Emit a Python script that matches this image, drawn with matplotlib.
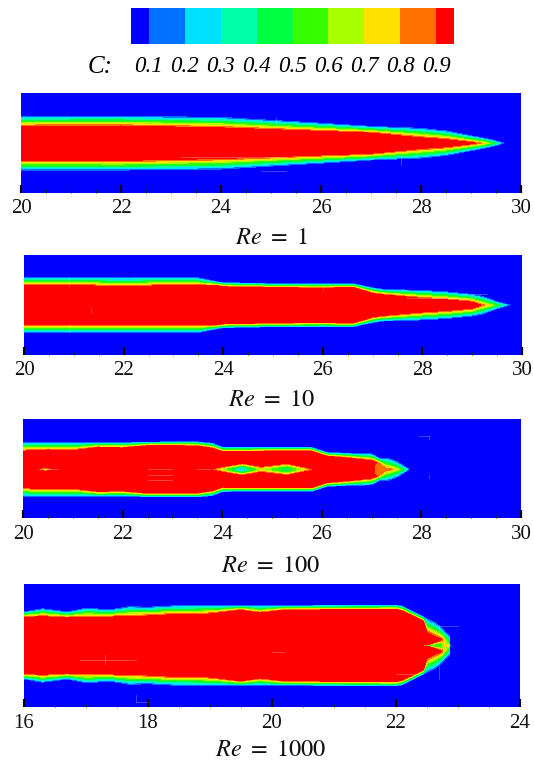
import numpy as np
import matplotlib
matplotlib.use("Agg")
import matplotlib.pyplot as plt
from matplotlib.colors import ListedColormap, BoundaryNorm

W, H = 534, 760
plt.rcParams['font.family'] = ['Liberation Serif', 'DejaVu Serif']
plt.rcParams['mathtext.fontset'] = 'stix'

levels = [0.05, 0.1, 0.2, 0.3, 0.4, 0.5, 0.6, 0.7, 0.8, 0.9, 0.95]
colors = ['#0000ff', '#0070ff', '#00e0ff', '#00ffa8', '#00ff40',
          '#38ff00', '#a8ff00', '#ffe000', '#ff7000', '#ff0000']
level_labels = ['0.1', '0.2', '0.3', '0.4', '0.5', '0.6', '0.7', '0.8', '0.9']

# Panel 1: Re = 1
x1 = [20, 22, 24, 25, 26, 27, 28, 28.5, 29, 29.2, 29.4, 29.65, 29.66, 30]
out1 = [27, 27, 26, 23, 20, 16.7, 15, 12.3, 7.3, 5.5, 3.5, 0, 0, 0]
in1 = [17.3, 17.6, 15.7, 14, 12.3, 10.7, 5.7, 4, 1.3, 0, -2, -5, -5, -5]

# Panel 2: Re = 10
x2 = [20, 21, 22, 23, 23.5, 23.9, 24, 25, 26, 26.6, 27, 27.2, 28, 28.5, 29, 29.2, 29.5, 29.75, 29.76, 30]
out2 = [27.3, 27.3, 27.3, 27.3, 27.3, 23, 22.3, 21.3, 21.3, 21.3, 17.3, 15.7, 14.7, 13.3, 10.7, 9, 3.3, 0, 0, 0]
in2 = [20, 20, 19.3, 20, 20, 20, 19, 18.3, 17.6, 18.5, 12.3, 11, 7.3, 5.7, 3.5, 0, -3, -5, -5, -5]

# Panel 3: Re = 100
x3 = [20, 20.5, 21, 21.5, 22, 22.5, 23, 23.5, 23.8, 24, 25, 25.8, 26.1, 26.5, 27, 27.15, 27.35, 27.5, 27.6, 27.75, 27.76, 30]
out3 = [26.7, 26.7, 26.7, 26.7, 26.7, 27, 27.3, 27.3, 26, 22, 21.7, 21.7, 16.7, 16, 15.3, 11, 11, 8, 5, 0, 0, 0]
in3 = [18.7, 20, 19.3, 22.5, 22, 24.3, 24.3, 24, 21.7, 18.3, 18.7, 18.7, 13.7, 12, 9.3, 6.7, 0, -2, -4, -5, -5, -5]
dip_x3 = [20, 20.3, 20.45, 20.6, 23.75, 24.4, 24.78, 25.3, 25.87, 27.03, 27.1, 27.3, 27.36, 30]
dip3 = [0, 0, 0.22, 0, 0, 0.72, 0.25, 0.55, 0, 0, 0.14, 0.14, 0, 0]
dip_h3 = [2, 2, 2, 2, 1, 6.5, 3.5, 6.5, 1, 9, 9, 9, 9, 9]

# Panel 4: Re = 1000
x4 = [16, 16.3, 16.7, 17, 17.4, 17.7, 18, 18.4, 19, 19.5, 19.8, 20.2, 21, 22, 22.1, 22.44, 22.5, 22.63, 22.73, 22.8, 22.86, 22.87, 24]
out4 = [33.3, 36.7, 33.3, 37.3, 35.7, 39, 38.3, 39.7, 39.7, 39.7, 39.7, 39.7, 40, 40, 39.3, 28.3, 27, 23.3, 18, 13, 10, 0, 0]
in4 = [28.7, 29.3, 28.3, 28.7, 29, 29.3, 30, 31.3, 32, 36, 33, 36, 36.3, 36.7, 35, 25, 13, 9, 6.5, 2, -3, -5, -5]
dip_x4 = [16, 22.44, 22.5, 22.73, 22.87, 24]
dip4 = [0, 0, 0.45, 0.45, 0, 0]
dip_h4 = [1, 1, 0.5, 6, 6, 1]

tick_ranges = [(20, 30), (20, 30), (20, 30), (16, 24)]
titles = ['1', '10', '100', '1000']
# left, right, top, bottom in reference pixels
frames = [(21, 521, 93, 192.5), (24, 522, 255, 354.5), (23, 521, 419, 518), (24, 520, 584, 707)]
title_y = [238, 401, 566, 750]
center_y = [143.2, 305.2, 469.4, 645.5]

# faint cell-edge marks in the reference: (x0, x1, y0, y1)
marks1 = [(25.1, 25.1, 16, 25), (23.2, 25.3, -14, -14), (24.8, 25.3, -27.5, -27.5), (27.6, 27.6, -22, -12), (27.3, 27.3, 10, 15)]
marks2 = [(20.9, 20.9, 19, 27), (20.9, 20.9, -27, -19), (21.35, 21.35, -8, -3), (27.7, 29.0, 7, 7), (28.9, 29.3, 11, 11), (26.0, 26.0, 15, 20)]
marks3 = [(28.15, 28.15, 30, 33), (27.95, 28.15, 33, 33), (22.5, 23.0, 0, 0), (22.5, 23.0, -6, -6), (22.5, 23.0, -11, -11), (23.5, 23.75, 0, 0), (20.3, 20.7, 0, 0), (28.15, 28.15, -9, -6)]
marks4 = [(17.3, 17.3, -18, -9), (16.9, 17.8, -14, -14), (17.8, 17.8, -56, -49), (17.8, 18.0, -56, -56), (22.7, 22.7, 12, 20), (22.7, 23.0, 20, 20), (20.0, 20.2, -6, -6), (22.0, 22.4, -28, -28), (22.7, 22.7, -33, -20)]
all_marks = [marks1, marks2, marks3, marks4]
dips = [None, None, (dip_x3, dip3, dip_h3), (dip_x4, dip4, dip_h4)]
profiles = [(x1, out1, in1), (x2, out2, in2), (x3, out3, in3), (x4, out4, in4)]

cmap = ListedColormap(colors)
norm = BoundaryNorm(levels, cmap.N)


def pixel_axes(fig, l, r, t, b):
    return fig.add_axes([l / W, 1 - b / H, (r - l) / W, (b - t) / H])


def build_field(profile, dip, xlim, half):
    xs, out, inner = profile
    gx = np.linspace(xlim[0], xlim[1], 1400)
    gy = np.linspace(-half, half, 500)
    o = np.interp(gx, xs, out)
    i = np.interp(gx, xs, inner)
    X, Y = np.meshgrid(gx, gy)
    O = np.tile(o, (gy.size, 1))
    I = np.tile(i, (gy.size, 1))
    has_band = O > 0
    O = np.where(has_band, O + 0.5, 0)
    I = np.where(has_band, I - 1.0, I)
    frac = np.clip((O - np.abs(Y)) / np.maximum(O - I, 1e-6), 0, 1)
    C = 0.05 + 0.9 * frac
    C[np.abs(Y) >= O] = 0.0
    if dip is not None:
        dx, dv, dh = dip
        d = np.tile(np.interp(gx, dx, dv), (gy.size, 1))
        h = np.tile(np.interp(gx, dx, dh), (gy.size, 1))
        C = C * (1 - d * np.clip(1.5 * (1 - np.abs(Y) / h), 0, 1))
    return X, Y, C


fig = plt.figure(figsize=(W / 100, H / 100), dpi=100)

# Colour key
cax = pixel_axes(fig, 131, 454, 8, 44)
cax.pcolormesh(levels, [0, 1], np.array([levels[:-1]]) + 1e-6, cmap=cmap, norm=norm)
cax.set_axis_off()
fig.text(100 / W, 1 - 67 / H, 'C:', style='italic', fontsize=18, ha='center', va='center')
for lab, lev in zip(level_labels, levels[1:-1]):
    px = 131 + (lev - 0.05) / 0.9 * 323
    fig.text(px / W, 1 - 67 / H, lab, style='italic', fontsize=16.5, ha='center', va='center')

for k, frame in enumerate(frames):
    l, r, t, b = frame
    ax = pixel_axes(fig, l, r, t, b)
    xlim = tick_ranges[k]
    cy = center_y[k]
    X, Y, C = build_field(profiles[k], dips[k], xlim, max(cy - t, b - cy))
    ax.contourf(X, Y, C, levels=[-1] + levels[1:-1] + [2], colors=colors)
    ax.set_xlim(*xlim)
    ax.set_ylim(cy - b, cy - t)
    for x0, x1_, y0, y1_ in all_marks[k]:
        ax.plot([x0, x1_], [y0, y1_], color='white', lw=0.6, alpha=0.3)
    for s in ax.spines.values():
        s.set_visible(False)
    ax.set_yticks([])
    ax.set_xticks(np.arange(xlim[0], xlim[1] + 1, 2))
    ax.set_xticks(np.arange(xlim[0], xlim[1] + 0.1, 0.5), minor=True)
    ax.tick_params(axis='x', which='major', direction='in', length=6, width=1.6,
                   color='black', labelsize=15, pad=5, labelcolor='#111111')
    ax.tick_params(axis='x', which='minor', direction='in', length=2.5, width=0.7, color='#222222')
    fig.text(271 / W, 1 - title_y[k] / H, rf'$Re\ =\ {titles[k]}$', fontsize=17.5,
             ha='center', va='center', color='#111111')

fig.savefig('out.png', dpi=100)
